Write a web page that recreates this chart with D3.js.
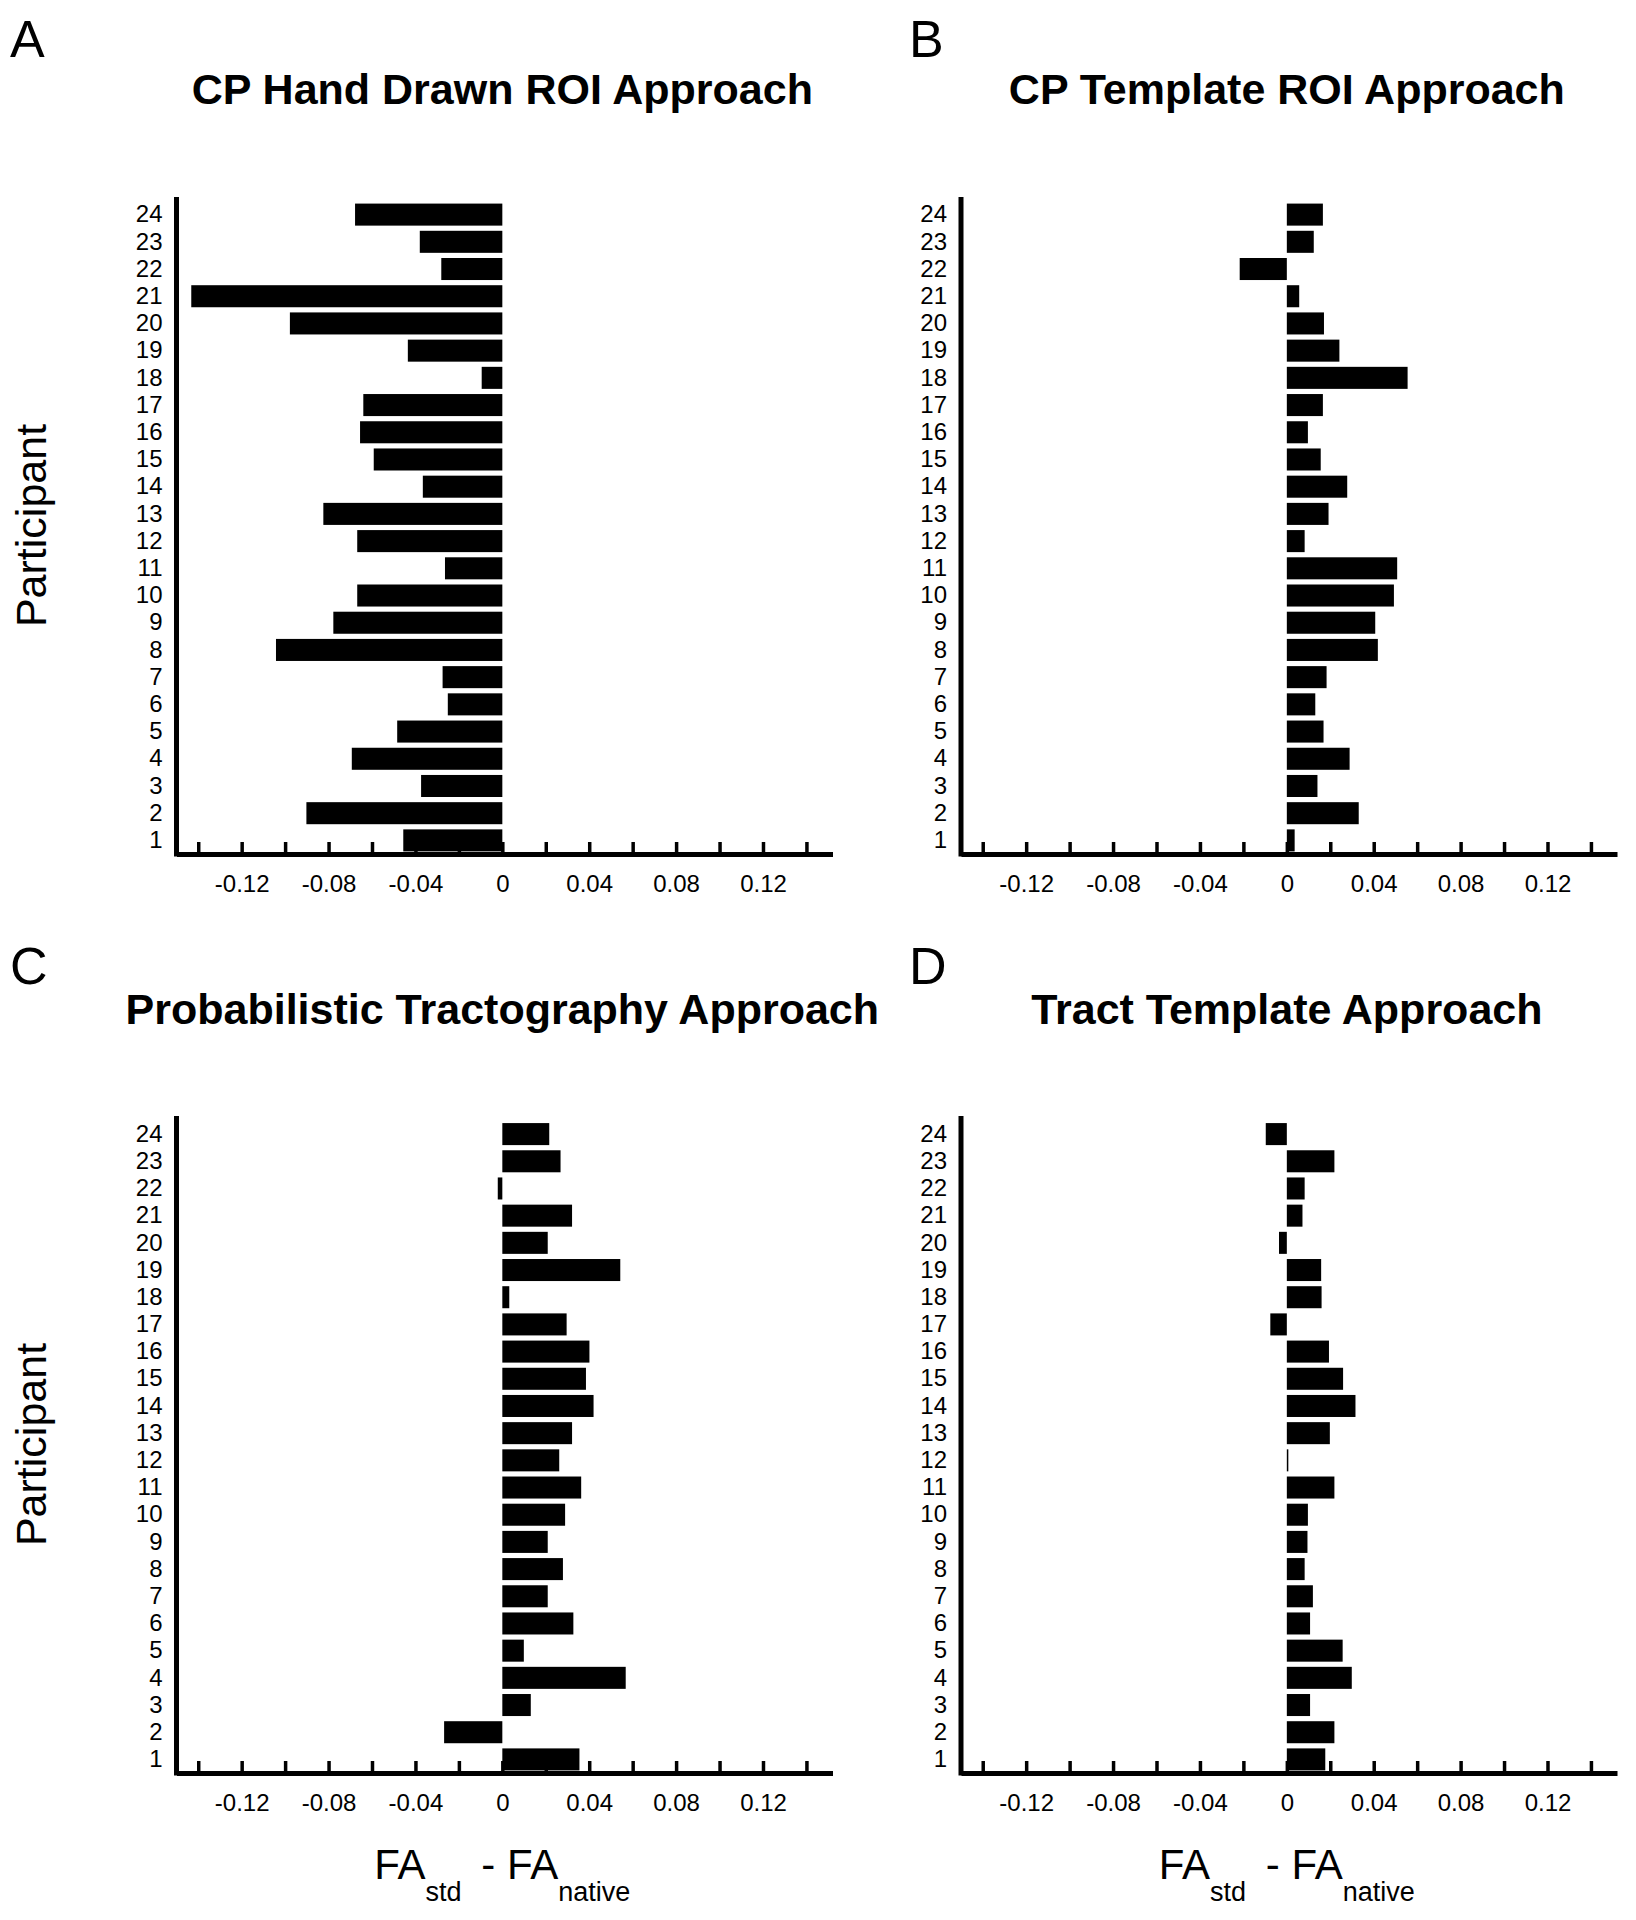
<!DOCTYPE html>
<html><head><meta charset="utf-8">
<script src="https://cdn.jsdelivr.net/npm/d3@7"></script>
<style>
body{margin:0;background:#fff}
svg{display:block}
text{font-family:"Liberation Sans",Arial,Helvetica,sans-serif;fill:#000}
</style>
</head><body>
<svg id="chart" width="1636" height="1920"></svg>
<script>
// ---------- data ----------
const participants = ["1","2","3","4","5","6","7","8","9","10","11","12","13","14","15","16","17","18","19","20","21","22","23","24"];
const tickValues = [-0.14,-0.12,-0.10,-0.08,-0.06,-0.04,-0.02,0,0.02,0.04,0.06,0.08,0.10,0.12,0.14];
const tickLabels = ["-0.12","-0.08","-0.04","0","0.04","0.08","0.12"];
const panelLetters = ["A","B","C","D"];
const panelTitles = ["CP Hand Drawn ROI Approach","CP Template ROI Approach","Probabilistic Tractography Approach","Tract Template Approach"];
const yAxisTitle = "Participant";
const xAxisTitle = ["FA","std"," - FA","native"];
// values for participants 1..24
const handDrawnROI = [-0.0456,-0.0902,-0.0374,-0.0693,-0.0484,-0.0251,-0.0275,-0.1042,-0.0778,-0.0668,-0.0264,-0.0668,-0.0824,-0.0366,-0.0592,-0.0655,-0.0640,-0.0095,-0.0435,-0.0978,-0.1432,-0.0281,-0.0380,-0.0678];
const templateROI = [0.0036,0.0331,0.0141,0.0289,0.0169,0.0131,0.0183,0.0419,0.0407,0.0493,0.0508,0.0082,0.0192,0.0278,0.0156,0.0097,0.0166,0.0556,0.0242,0.0171,0.0057,-0.0217,0.0124,0.0166];
const probTractography = [0.0355,-0.0268,0.0131,0.0568,0.0099,0.0327,0.0209,0.0279,0.0209,0.0289,0.0363,0.0262,0.0321,0.0420,0.0385,0.0401,0.0296,0.0032,0.0543,0.0209,0.0321,-0.0021,0.0268,0.0216];
const tractTemplate = [0.0177,0.0219,0.0107,0.0299,0.0257,0.0107,0.0120,0.0082,0.0095,0.0097,0.0219,0.0003,0.0198,0.0316,0.0259,0.0194,-0.0076,0.0160,0.0158,-0.0036,0.0072,0.0082,0.0219,-0.0097];
const seriesList = [handDrawnROI, templateROI, probTractography, tractTemplate];

// ---------- layout ----------
const svg = d3.select("#chart");
const layouts = [
  {x0:176.5, top:201, bottom:854, axisTop:197, titleY:104, letterX:10, letterY:57, yTitle:true, xTitle:false},
  {x0:961,   top:201, bottom:854, axisTop:197, titleY:104, letterX:909, letterY:57, yTitle:false, xTitle:false},
  {x0:176.5, top:1120.5, bottom:1773, axisTop:1116, titleY:1024, letterX:10, letterY:984, yTitle:true, xTitle:true},
  {x0:961,   top:1120.5, bottom:1773, axisTop:1116, titleY:1024, letterX:909, letterY:984, yTitle:false, xTitle:true}
];
const fmt = v => Math.abs(v) < 1e-9 ? "0" : String(+v.toFixed(2));

layouts.forEach((L, i) => {
  const values = seriesList[i];
  const g = svg.append("g");
  const x = d3.scaleLinear().domain([-0.15, 0.152]).range([L.x0, L.x0 + 656]);
  const y = d3.scaleBand().domain(participants).range([L.bottom, L.top]).paddingInner(0.19).paddingOuter(0.095);
  const zx = x(0);

  // bars
  g.append("g").selectAll("rect").data(participants).join("rect")
    .attr("x", (p, k) => Math.min(x(values[k]), zx))
    .attr("width", (p, k) => Math.max(1.5, Math.abs(x(values[k]) - zx)))
    .attr("y", p => y(p))
    .attr("height", y.bandwidth())
    .attr("fill", "#000");

  // x axis
  const xAxis = d3.axisBottom(x).tickValues(tickValues).tickSizeInner(-12).tickSizeOuter(0).tickPadding(21)
    .tickFormat(v => tickLabels.includes(fmt(v)) ? fmt(v) : "");
  const xg = g.append("g").attr("transform", `translate(0,${L.bottom})`).call(xAxis);
  xg.select(".domain").attr("stroke", "#000").attr("stroke-width", 5);
  xg.selectAll(".tick line").attr("stroke", "#000").attr("stroke-width", 3.5);
  xg.selectAll(".tick text").attr("font-size", 24).attr("fill", "#000")
    .attr("font-family", '"Liberation Sans",Arial,sans-serif');

  // y axis
  const yAxis = d3.axisLeft(y).tickSize(0).tickPadding(14);
  const yg = g.append("g").attr("transform", `translate(${L.x0},0)`).call(yAxis);
  yg.select(".domain").remove();
  yg.selectAll(".tick text").attr("font-size", 24).attr("fill", "#000")
    .attr("font-family", '"Liberation Sans",Arial,sans-serif');
  g.append("line").attr("x1", L.x0).attr("x2", L.x0).attr("y1", L.axisTop).attr("y2", L.bottom + 2.5)
    .attr("stroke", "#000").attr("stroke-width", 5);

  // title & letter
  g.append("text").attr("x", zx).attr("y", L.titleY).attr("text-anchor", "middle")
    .attr("font-size", 43).attr("font-weight", "bold").text(panelTitles[i]);
  g.append("text").attr("x", L.letterX).attr("y", L.letterY)
    .attr("font-size", 52).text(panelLetters[i]);

  if (L.yTitle) {
    g.append("text").attr("transform", `translate(46,${(L.axisTop + L.bottom) / 2}) rotate(-90)`)
      .attr("text-anchor", "middle").attr("font-size", 43).text(yAxisTitle);
  }
  if (L.xTitle) {
    const t = g.append("text").attr("x", zx).attr("y", L.bottom + 106).attr("text-anchor", "middle").attr("font-size", 42);
    t.append("tspan").text(xAxisTitle[0]);
    t.append("tspan").attr("font-size", 27).attr("dy", 22).text(xAxisTitle[1]);
    t.append("tspan").attr("dy", -22).attr("dx", 8).text(xAxisTitle[2]);
    t.append("tspan").attr("font-size", 27).attr("dy", 22).text(xAxisTitle[3]);
  }
});
</script>
</body></html>
